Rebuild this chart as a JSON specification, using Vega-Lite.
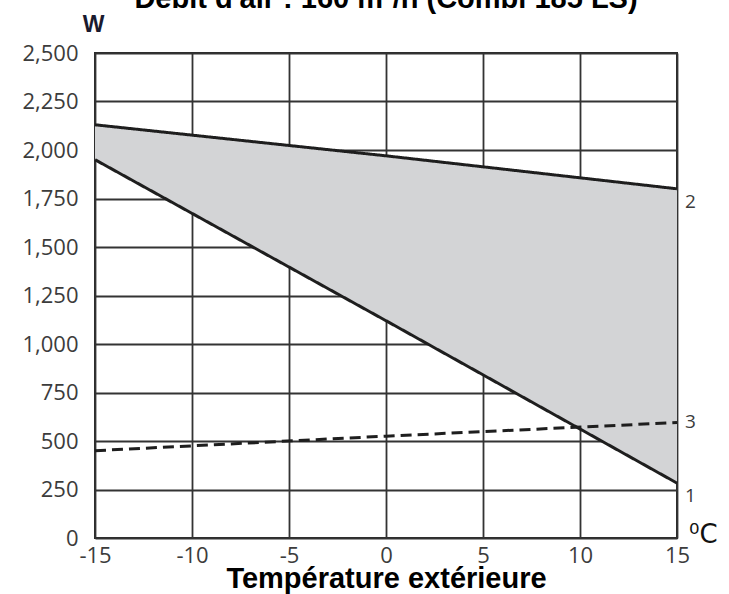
{
  "$schema": "https://vega.github.io/schema/vega-lite/v6.json",
  "autosize": "none",
  "width": 582,
  "height": 485,
  "padding": {"left": 95, "top": 53, "right": 52, "bottom": 56},
  "background": "white",
  "title": {
    "text": "Débit d'air : 160 m³/h (Combi 185 LS)",
    "font": "Liberation Sans",
    "fontSize": 29,
    "fontWeight": "bold",
    "color": "#000000",
    "anchor": "middle",
    "offset": -1
  },
  "config": {
    "view": {"stroke": "#2a2a2a", "strokeWidth": 2},
    "axis": {
      "grid": true,
      "gridColor": "#333333",
      "gridWidth": 1.8,
      "gridOpacity": 1,
      "domain": false,
      "ticks": false,
      "labelFont": "Open Sans",
      "labelFontSize": 22,
      "labelColor": "#3c3c3c",
      "zindex": 1
    }
  },
  "datasets": {
    "lines": [
      {"t": -15, "w": 1950, "curve": "1"},
      {"t": 0, "w": 1120, "curve": "1"},
      {"t": 15, "w": 283, "curve": "1"},
      {"t": -15, "w": 2130, "curve": "2"},
      {"t": 0, "w": 1970, "curve": "2"},
      {"t": 15, "w": 1800, "curve": "2"},
      {"t": -15, "w": 450, "curve": "3"},
      {"t": 0, "w": 525, "curve": "3"},
      {"t": 15, "w": 595, "curve": "3"}
    ],
    "band": [
      {"t": -15, "low": 1950, "high": 2130},
      {"t": 0, "low": 1120, "high": 1970},
      {"t": 15, "low": 283, "high": 1800}
    ],
    "labels": [
      {"t": 15, "w": 1734, "label": "2"},
      {"t": 15, "w": 600, "label": "3"},
      {"t": 15, "w": 219, "label": "1"}
    ],
    "unit": [
      {"t": 15, "w": 0, "label": "⁰C"}
    ]
  },
  "layer": [
    {
      "data": {"name": "band"},
      "mark": {"type": "area", "color": "#d3d4d6", "opacity": 1},
      "encoding": {
        "x": {
          "field": "t", "type": "quantitative",
          "scale": {"domain": [-15, 15], "nice": false, "zero": false},
          "axis": {
            "values": [-15, -10, -5, 0, 5, 10, 15],
            "labelExpr": "datum.value < 0 ? '-' + abs(datum.value) : '' + datum.value",
            "labelPadding": 7,
            "labelFlush": false,
            "title": "Température extérieure",
            "titleFont": "Liberation Sans",
            "titleFontSize": 29,
            "titleFontWeight": "bold",
            "titleColor": "#000000",
            "titleBaseline": "alphabetic",
            "titleY": 49
          }
        },
        "y": {
          "field": "low", "type": "quantitative",
          "scale": {"domain": [0, 2500], "nice": false},
          "axis": {
            "values": [0, 125, 250, 375, 500, 625, 750, 875, 1000, 1125, 1250, 1375, 1500, 1625, 1750, 1875, 2000, 2125, 2250, 2375, 2500],
            "labelExpr": "datum.value % 250 == 0 ? format(datum.value, ',') : ''",
            "labelPadding": 17,
            "title": "W",
            "titleAngle": 0,
            "titleFont": "Liberation Sans",
            "titleFontSize": 23,
            "titleFontWeight": "bold",
            "titleColor": "#1a1a2e",
            "titleX": -2,
            "titleY": -29,
            "titleAlign": "center",
            "titleBaseline": "middle"
          }
        },
        "y2": {"field": "high"}
      }
    },
    {
      "data": {"name": "lines"},
      "mark": {"type": "line", "color": "#1e1e1e", "strokeWidth": 3},
      "encoding": {
        "x": {"field": "t", "type": "quantitative"},
        "y": {"field": "w", "type": "quantitative"},
        "detail": {"field": "curve"},
        "strokeDash": {
          "field": "curve", "type": "nominal",
          "scale": {"domain": ["1", "2", "3"], "range": [[1, 0], [1, 0], [11, 6]]},
          "legend": null
        }
      }
    },
    {
      "data": {"name": "labels"},
      "mark": {"type": "text", "align": "left", "baseline": "middle", "dx": 8, "font": "Open Sans", "fontSize": 19, "color": "#3c3c3c"},
      "encoding": {
        "x": {"field": "t", "type": "quantitative"},
        "y": {"field": "w", "type": "quantitative"},
        "text": {"field": "label"}
      }
    },
    {
      "data": {"name": "unit"},
      "mark": {"type": "text", "align": "left", "baseline": "middle", "dx": 12, "dy": -3, "font": "DejaVu Sans", "fontSize": 26, "color": "#111111"},
      "encoding": {
        "x": {"field": "t", "type": "quantitative"},
        "y": {"field": "w", "type": "quantitative"},
        "text": {"field": "label"}
      }
    }
  ]
}
